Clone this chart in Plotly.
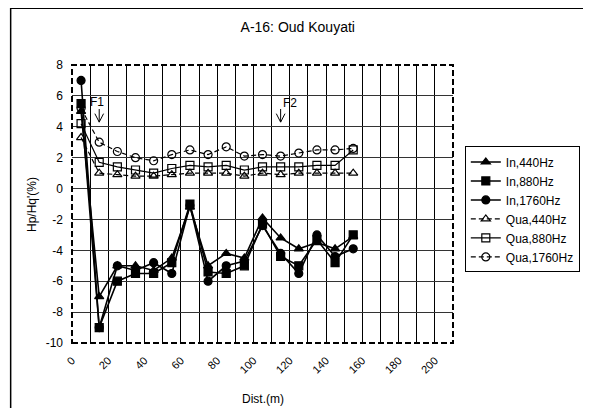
import plotly.graph_objects as go

dist = [5, 15, 25, 35, 45, 55, 65, 75, 85, 95, 105, 115, 125, 135, 145, 155]
in_440 = [5.0, -7.0, -5.0, -5.0, -5.3, -4.5, -1.2, -5.0, -4.2, -4.5, -1.9, -3.2, -3.9, -3.5, -3.9, -3.1]
in_880 = [5.5, -9.0, -6.0, -5.5, -5.5, -4.8, -1.0, -5.4, -5.5, -5.0, -2.3, -4.4, -5.0, -3.3, -4.8, -3.0]
in_1760 = [7.0, -9.0, -5.0, -5.3, -4.8, -5.5, -1.1, -6.0, -5.0, -4.7, -2.4, -4.2, -5.5, -3.0, -4.4, -3.9]
qua_440 = [3.3, 1.0, 0.9, 0.8, 0.8, 0.9, 1.0, 1.0, 1.0, 0.8, 1.0, 0.9, 1.0, 1.0, 1.0, 1.0]
qua_880 = [4.2, 1.7, 1.4, 1.2, 1.0, 1.3, 1.5, 1.4, 1.5, 1.2, 1.4, 1.4, 1.4, 1.5, 1.5, 2.5]
qua_1760 = [5.2, 3.0, 2.4, 2.0, 1.8, 2.2, 2.5, 2.2, 2.7, 2.1, 2.2, 2.1, 2.3, 2.5, 2.5, 2.6]

x_ticks = [0, 20, 40, 60, 80, 100, 120, 140, 160, 180, 200]
y_ticks = [-10, -8, -6, -4, -2, 0, 2, 4, 6, 8]

markers = [
    ("In,440Hz", in_440, "triangle-up", "solid", 1.6),
    ("In,880Hz", in_880, "square", "solid", 1.6),
    ("In,1760Hz", in_1760, "circle", "solid", 1.6),
    ("Qua,440Hz", qua_440, "triangle-up-open", "5px,3px", 1.2),
    ("Qua,880Hz", qua_880, "square-open", "solid", 1.2),
    ("Qua,1760Hz", qua_1760, "circle-open", "5px,3px", 1.2),
]

fig = go.Figure()
for name, vals, sym, dash, w in markers:
    fig.add_trace(go.Scatter(
        x=dist, y=vals, name=name, mode="lines+markers",
        line=dict(color="black", width=w, dash=dash),
        marker=dict(symbol=sym, size=8, color="black",
                    line=dict(color="black", width=1.2)),
    ))


def down_arrow(x, y_tip, y_tail, hw=2.4, hh=0.55):
    return dict(type="path", xref="x", yref="y",
                path=f"M {x},{y_tail} L {x},{y_tip} M {x - hw},{y_tip + hh} L {x},{y_tip} L {x + hw},{y_tip + hh}",
                line=dict(color="black", width=1), layer="above")


font = "Liberation Sans, Arial, sans-serif"
fig.update_layout(
    width=583, height=400,
    margin=dict(l=64, r=138, t=57, b=65, autoexpand=False),
    paper_bgcolor="white", plot_bgcolor="white",
    font=dict(family=font, color="black", size=11),
    title=dict(text="A-16: Oud Kouyati", x=0.497, xref="container",
               y=0.952, yref="container", xanchor="center", yanchor="middle",
               font=dict(size=14, family=font, color="black")),
    showlegend=True,
    legend=dict(x=1.031, y=0.707, xanchor="left", yanchor="top",
                bordercolor="black", borderwidth=1, bgcolor="white",
                font=dict(size=12, family=font, color="black"), tracegroupgap=0,
                itemwidth=30),
    xaxis=dict(range=[0, 210], tickvals=x_ticks, ticktext=[str(v) for v in x_ticks],
               tickangle=-45, showgrid=True, gridcolor="black", gridwidth=1,
               minor=dict(dtick=10, tick0=0, showgrid=True, gridcolor="black", gridwidth=1),
               zeroline=False, ticks="", showline=False, ticklabelstandoff=8,
               automargin=False,
               tickfont=dict(size=11, color="black")),
    yaxis=dict(range=[-10, 8], tickvals=y_ticks,
               ticktext=[str(v) for v in y_ticks],
               showgrid=True, gridcolor="#333333",
               gridwidth=1.3, zeroline=False, ticks="", showline=False,
               ticklabelstandoff=8, automargin=False,
               tickfont=dict(size=12, color="black")),
    shapes=[
        dict(type="rect", xref="paper", yref="paper", x0=0, x1=1, y0=0, y1=1,
             line=dict(color="black", width=2, dash="6px,3px"), layer="above"),
        dict(type="rect", xref="paper", yref="paper", x0=-0.161, x1=1.346,
             y0=-0.26, y1=1.204, line=dict(color="black", width=1.5)),
        down_arrow(15, 4.3, 5.15),
        down_arrow(115, 4.3, 5.15),
    ],
    annotations=[
        dict(x=14, y=5.62, xref="x", yref="y", text="F1", showarrow=False,
             font=dict(size=12, family=font, color="black")),
        dict(x=120, y=5.54, xref="x", yref="y", text="F2", showarrow=False,
             font=dict(size=12, family=font, color="black")),
        dict(x=0.501, y=-0.201, xref="paper", yref="paper", text="Dist.(m)",
             showarrow=False, xanchor="center", yanchor="middle",
             font=dict(size=12, family=font, color="black")),
        dict(x=-0.105, y=0.5, xref="paper", yref="paper", text="Hp/Hq'(%)",
             showarrow=False, textangle=-90, xanchor="center", yanchor="middle",
             font=dict(size=12, family=font, color="black")),
    ],
)

fig.write_html("out.html")
